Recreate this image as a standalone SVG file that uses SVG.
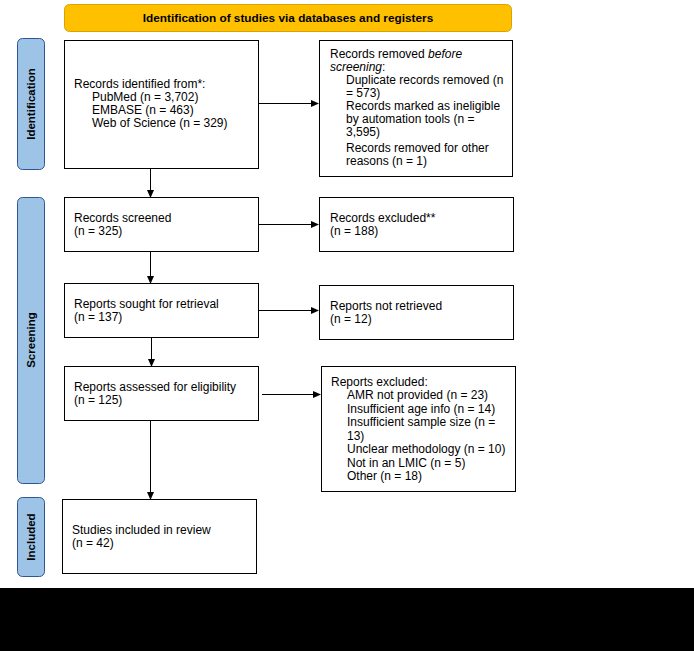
<svg xmlns="http://www.w3.org/2000/svg" width="694" height="651" viewBox="0 0 694 651">
<style>
text{font-family:"Liberation Sans",Arial,sans-serif;font-size:12px;fill:#000}
.box{fill:#fff;stroke:#000;stroke-width:1}
.side{fill:#9DC3E6;stroke:#2F5597;stroke-width:1}
.sidet{font-weight:bold;font-size:11.5px}
.conn{stroke:#000;stroke-width:1;fill:none;marker-end:url(#ah)}
</style>
<defs>
<marker id="ah" markerWidth="8" markerHeight="8" refX="7" refY="4" orient="auto" markerUnits="userSpaceOnUse">
<path d="M0,0.5 L8,4 L0,7.5 Z" fill="#000"/>
</marker>
</defs>
<rect width="694" height="651" fill="#fff"/>
<g id="banner">
<rect x="64.5" y="4.5" width="447" height="27" rx="5" fill="#FFC000" stroke="#D9A300"/>
<text x="288" y="22" text-anchor="middle" font-weight="bold" style="font-size:11.8px">Identification of studies via databases and registers</text>
</g>
<g id="side-identification">
<rect class="side" x="17.5" y="38.5" width="27" height="131" rx="5"/>
<text class="sidet" transform="translate(35,104) rotate(-90)" text-anchor="middle">Identification</text>
</g>
<g id="side-screening">
<rect class="side" x="17.5" y="197.5" width="27" height="286" rx="5"/>
<text class="sidet" transform="translate(35,340) rotate(-90)" text-anchor="middle">Screening</text>
</g>
<g id="side-included">
<rect class="side" x="17.5" y="497.5" width="27" height="79" rx="5"/>
<text class="sidet" transform="translate(35,537) rotate(-90)" text-anchor="middle">Included</text>
</g>
<g id="records-identified">
<rect class="box" x="64.5" y="40.5" width="194" height="128"/>
<text x="74" y="88">Records identified from*:</text>
<text x="92" y="101">PubMed (n = 3,702)</text>
<text x="92" y="114">EMBASE (n = 463)</text>
<text x="92" y="127">Web of Science (n = 329)</text>
</g>
<g id="records-removed">
<rect class="box" x="319.5" y="40.5" width="193" height="136"/>
<text x="330" y="58">Records removed <tspan font-style="italic">before</tspan></text>
<text x="330" y="71"><tspan font-style="italic">screening</tspan>:</text>
<text x="346" y="84">Duplicate records removed (n</text>
<text x="346" y="97">= 573)</text>
<text x="346" y="110">Records marked as ineligible</text>
<text x="346" y="123">by automation tools (n =</text>
<text x="346" y="136">3,595)</text>
<text x="346" y="152">Records removed for other</text>
<text x="346" y="165">reasons (n = 1)</text>
</g>
<g id="records-screened">
<rect class="box" x="64.5" y="197.5" width="194" height="54"/>
<text x="74" y="222">Records screened</text>
<text x="74" y="235">(n = 325)</text>
</g>
<g id="records-excluded">
<rect class="box" x="319.5" y="197.5" width="194" height="54"/>
<text x="330" y="222">Records excluded**</text>
<text x="330" y="235">(n = 188)</text>
</g>
<g id="reports-sought">
<rect class="box" x="64.5" y="283.5" width="194" height="54"/>
<text x="74" y="308">Reports sought for retrieval</text>
<text x="74" y="321">(n = 137)</text>
</g>
<g id="reports-not-retrieved">
<rect class="box" x="319.5" y="285.5" width="194" height="54"/>
<text x="330" y="310">Reports not retrieved</text>
<text x="330" y="323">(n = 12)</text>
</g>
<g id="reports-assessed">
<rect class="box" x="64.5" y="366.5" width="194" height="54"/>
<text x="74" y="391">Reports assessed for eligibility</text>
<text x="74" y="404">(n = 125)</text>
</g>
<g id="reports-excluded">
<rect class="box" x="321.5" y="366.5" width="194" height="125"/>
<text x="331" y="386">Reports excluded:</text>
<text x="347" y="399">AMR not provided (n = 23)</text>
<text x="347" y="412.5">Insufficient age info (n = 14)</text>
<text x="347" y="426">Insufficient sample size (n =</text>
<text x="347" y="439.5">13)</text>
<text x="347" y="453">Unclear methodology (n = 10)</text>
<text x="347" y="466.5">Not in an LMIC (n = 5)</text>
<text x="347" y="480">Other (n = 18)</text>
</g>
<g id="studies-included">
<rect class="box" x="62.5" y="499.5" width="194" height="74"/>
<text x="72" y="534">Studies included in review</text>
<text x="72" y="547">(n = 42)</text>
</g>
<g id="connectors">
<line class="conn" x1="150.5" y1="168.5" x2="150.5" y2="197"/>
<line class="conn" x1="150.5" y1="251.5" x2="150.5" y2="283"/>
<line class="conn" x1="151.5" y1="337.5" x2="151.5" y2="366"/>
<line class="conn" x1="150.5" y1="420.5" x2="150.5" y2="499"/>
<line class="conn" x1="258.5" y1="103.5" x2="318" y2="103.5"/>
<line class="conn" x1="258.5" y1="224.5" x2="318" y2="224.5"/>
<line class="conn" x1="259" y1="310.5" x2="318" y2="310.5"/>
<line class="conn" x1="262" y1="394.5" x2="320" y2="394.5"/>
</g>
<rect x="0" y="588" width="694" height="63" fill="#000"/>
</svg>
